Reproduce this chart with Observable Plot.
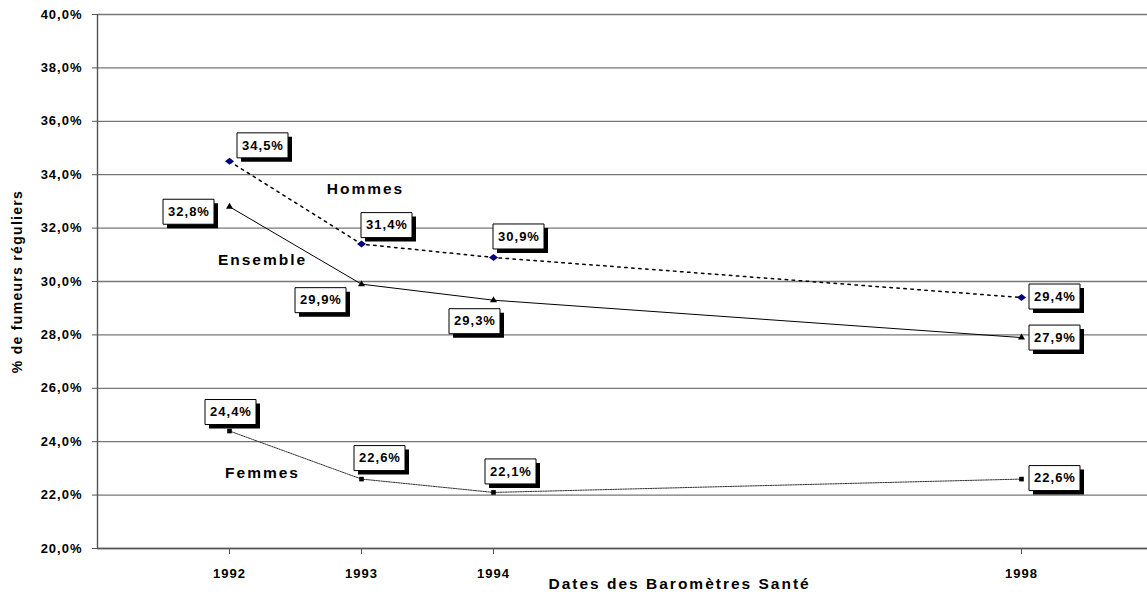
<!DOCTYPE html>
<html>
<head>
<meta charset="utf-8">
<script src="https://cdn.jsdelivr.net/npm/d3@7"></script>
<script src="https://cdn.jsdelivr.net/npm/@observablehq/plot@0.6"></script>
<style>
  body { margin: 0; background: #fff; }
  #chart svg { display: block; }
  #chart text { fill: #000; }
</style>
</head>
<body>
<div id="chart"></div>
<script>
// Part des fumeurs réguliers selon les Baromètres Santé
const years = [1992, 1993, 1994, 1998];
const hommes = [34.5, 31.4, 30.9, 29.4];
const ensemble = [32.8, 29.9, 29.3, 27.9];
const femmes = [24.4, 22.6, 22.1, 22.6];
const yTicks = [20, 22, 24, 26, 28, 30, 32, 34, 36, 38, 40];
const seriesNames = ["Hommes", "Ensemble", "Femmes"];
const xTitle = "Dates des Baromètres Santé";
const yTitle = "% de fumeurs réguliers";

// French number formatting: 34,5%
const fr = d3.formatLocale({decimal: ",", thousands: "\u00a0", grouping: [3], currency: ["", "\u00a0€"]});
const one = fr.format(".1f");
const pct = v => one(v) + "%";

// Marker shapes
const diamond = {draw(ctx) { ctx.moveTo(0, -3.5); ctx.lineTo(4.5, 0); ctx.lineTo(0, 3.5); ctx.lineTo(-4.5, 0); ctx.closePath(); }};
const box = (w, h) => ({draw(ctx) { ctx.rect(-w / 2, -h / 2, w, h); }});

const series = [
  {name: seriesNames[0], values: hommes, symbol: diamond, r: 4.5, fill: "#000080",
   line: {stroke: "#000", strokeWidth: 1.5, strokeDasharray: "2.5,4.5"}},
  {name: seriesNames[1], values: ensemble, symbol: "triangle", r: 2.6, fill: "#000",
   line: {stroke: "#000", strokeWidth: 1}},
  {name: seriesNames[2], values: femmes, symbol: "square", r: 2.6, fill: "#000",
   line: {stroke: "#333", strokeWidth: 1, strokeDasharray: "1.5,1"}}
];

// Where each value box sits relative to its point (pixels)
const labelOffsets = {
  Hommes:   [[33, -16], [25, -19], [25, -21], [33, -1]],
  Ensemble: [[-41, 5], [-41, 16], [-19, 21], [33, 0]],
  Femmes:   [[1, -19], [18, -21], [17, -21], [33, -1]]
};

// Series name annotations (data coordinates)
const nameSpots = [
  {name: seriesNames[0], x: 1993.03, y: 33.45},
  {name: seriesNames[1], x: 1992.25, y: 30.8},
  {name: seriesNames[2], x: 1992.25, y: 22.81}
];

const rows = series.flatMap(s => years.map((year, i) => ({series: s.name, year, value: s.values[i]})));

const seriesMarks = series.flatMap(s => {
  const data = rows.filter(d => d.series === s.name);
  return [
    Plot.line(data, {x: "year", y: "value", ...s.line}),
    Plot.dot(data, {x: "year", y: "value", symbol: s.symbol, r: s.r, fill: s.fill, stroke: "none"})
  ];
});

const boxW = 51, boxH = 25;
const labelMarks = rows.flatMap(d => {
  const [dx, dy] = labelOffsets[d.series][years.indexOf(d.year)];
  return [
    Plot.dot([d], {x: "year", y: "value", symbol: box(boxW, boxH), fill: "#000", stroke: "none", dx: dx + 4, dy: dy + 4}),
    Plot.dot([d], {x: "year", y: "value", symbol: box(boxW, boxH), fill: "#fff", stroke: "#000", strokeWidth: 1, dx, dy}),
    Plot.text([d], {x: "year", y: "value", text: v => pct(v.value), dx: dx + 0.5, dy,
      fontSize: 13, fontWeight: "bold"})
  ];
});

const chart = Plot.plot({
  width: 1147,
  height: 597,
  marginTop: 14,
  marginBottom: 49,
  marginLeft: 97,
  marginRight: 0,
  style: {fontFamily: "'Liberation Sans', Arial, sans-serif", background: "#fff", color: "#000"},
  x: {domain: [1991, 1999], range: [97, 1153]},
  y: {domain: [20, 40], range: [548, 14]},
  marks: [
    Plot.ruleY(yTicks, {stroke: "#777", strokeWidth: 1.3}),
    Plot.ruleY([20], {stroke: "#555", strokeWidth: 1.4}),
    Plot.ruleX([1991], {stroke: "#555", strokeWidth: 1.4}),
    Plot.axisY(yTicks, {tickFormat: v => one(v) + "%", tickSize: 5, tickPadding: 10, fontSize: 13,
      fontWeight: "bold", stroke: "#555", label: null}),
    Plot.axisX(years, {tickFormat: d => String(d), tickSize: 6, tickPadding: 14, fontSize: 13,
      fontWeight: "bold", stroke: "#555", label: null}),
    ...seriesMarks,
    ...labelMarks,
    Plot.text(nameSpots, {x: "x", y: "y", text: "name", fontSize: 15.5, fontWeight: "bold"}),
    Plot.text([xTitle], {x: 1995.41, frameAnchor: "bottom", dy: 40, text: d => d, fontSize: 15.5,
      fontWeight: "bold"}),
    Plot.text([yTitle], {frameAnchor: "left", textAnchor: "middle", dx: -80, rotate: -90, text: d => d,
      fontSize: 14, fontWeight: "bold"})
  ]
});

document.getElementById("chart").appendChild(chart);

// Wider tracking on the bold labels, scaled with their size
const tracking = size => size >= 15 ? 2 : size >= 14 ? 1.3 : 1;
chart.querySelectorAll("text").forEach(t => {
  const size = parseFloat(getComputedStyle(t).fontSize);
  t.style.letterSpacing = tracking(size) + "px";
});
</script>
</body>
</html>
